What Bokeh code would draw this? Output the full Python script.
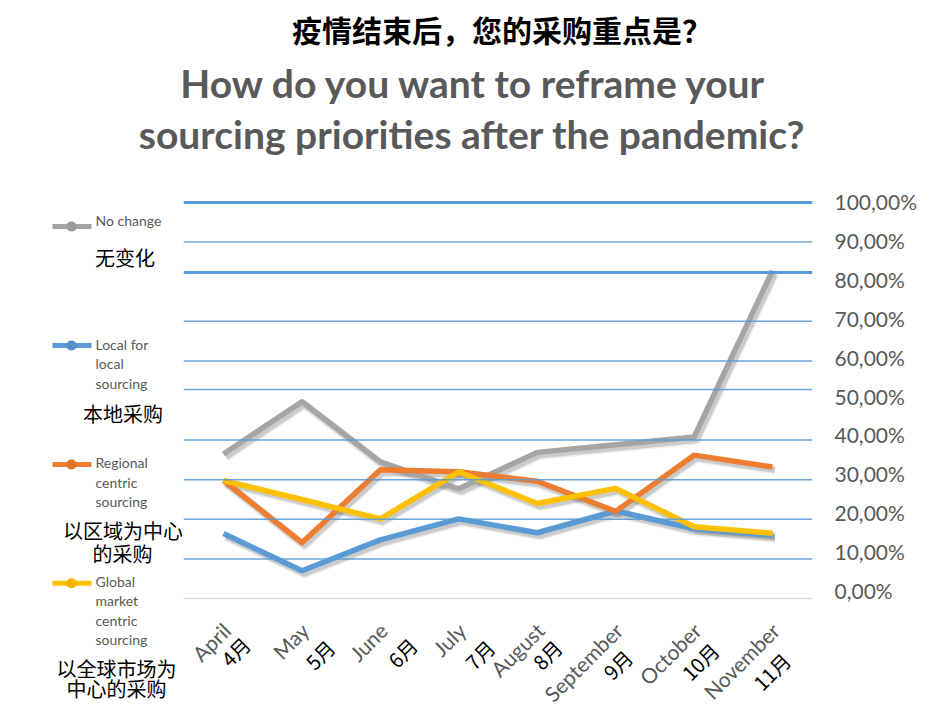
import math
from bokeh.plotting import figure
from bokeh.models import Range1d, LinearAxis, FixedTicker, CustomJSTickFormatter, Span
from bokeh.core.properties import value
from bokeh.embed import file_html
from bokeh.resources import INLINE

# ---------------- data ----------------
months = ["April", "May", "June", "July", "August", "September", "October", "November"]
months_cn = ["4月", "5月", "6月", "7月", "8月", "9月", "10月", "11月"]
no_change = [0.365, 0.497, 0.345, 0.277, 0.369, 0.388, 0.408, 0.828]
local_for_local = [0.164, 0.070, 0.148, 0.201, 0.166, 0.221, 0.176, 0.160]
regional_centric = [0.298, 0.141, 0.325, 0.320, 0.296, 0.220, 0.362, 0.332]
global_market = [0.298, 0.250, 0.201, 0.320, 0.240, 0.278, 0.181, 0.165]
y_ticks = [0.0, 0.1, 0.2, 0.3, 0.4, 0.5, 0.6, 0.7, 0.8, 0.9, 1.0]

series_names = ["No change", "Local for local sourcing", "Regional centric sourcing", "Global market centric sourcing"]
series_values = [no_change, local_for_local, regional_centric, global_market]
series_colors = ["#A5A5A5", "#5B9BD5", "#ED7D31", "#FFC000"]
marker_colors = ["#9A9A9A", "#5592CA", "#E0742A", "#F2B500"]

# ---------------- layout (page pixels) ----------------
W, H, PAGE = 940, 712, 0
FL, FR, FT, FB = 183, 812, 196, 604
X0_PX, DX_PX = 223.0, 78.43
Y0_PX, DY_PX = 598.0, 396.0

def dx(px):
    return (px - X0_PX) / DX_PX

def dy(py):
    return (Y0_PX - py) / DY_PX

x_start, x_end = dx(FL), dx(FR)
y_start, y_end = dy(FB), dy(FT)

p = figure(width=W, height=H, title=None,
           x_range=Range1d(x_start, x_end), y_range=Range1d(y_start, y_end),
           x_axis_location=None, y_axis_location=None,
           output_backend="svg", toolbar_location=None,
           min_border_left=FL - PAGE, min_border_right=W - (FR - PAGE),
           min_border_top=FT - PAGE, min_border_bottom=H - (FB - PAGE))
p.outline_line_color = None
p.background_fill_color = "white"
p.border_fill_color = "white"
p.grid.visible = False

sh_x, sh_y = 2.5 / DX_PX, 3.0 / DY_PX
p.extra_x_ranges = {"sx": Range1d(x_start - sh_x, x_end - sh_x)}
p.extra_y_ranges = {
    "sy": Range1d(y_start + sh_y, y_end + sh_y),
    "labels": Range1d((590 - FB) / 389.0, (590 - FT) / 389.0),
}

# right axis with percentage labels
ax = LinearAxis(y_range_name="labels", ticker=FixedTicker(ticks=y_ticks),
                formatter=CustomJSTickFormatter(code="return (tick*100).toFixed(2).replace('.', ',') + '%';"))
ax.axis_line_color = None
ax.major_tick_line_color = None
ax.minor_tick_line_color = None
ax.major_tick_in = 0
ax.major_tick_out = 0
ax.major_label_standoff = 22
ax.major_label_text_font = "Lato"
ax.major_label_text_font_size = "21px"
ax.major_label_text_color = "#595959"
p.add_layout(ax, "right")

# gridlines
grid_thin = [0.1, 0.2, 0.3, 0.4, 0.528, 0.6, 0.7, 0.9]
grid_thick = [0.823, 1.0]
for g in grid_thin:
    p.add_layout(Span(location=g, dimension="width", line_color="#5B9BD5", line_width=1.5, line_alpha=0.9))
for g in grid_thick:
    p.add_layout(Span(location=g, dimension="width", line_color="#5B9BD5", line_width=3))
p.add_layout(Span(location=0.0, dimension="width", line_color="#D9D9D9", line_width=1.5))

idx = list(range(len(months)))

# shadows
for vals in series_values:
    p.line(idx, vals, x_range_name="sx", y_range_name="sy", line_color="black",
           line_alpha=0.07, line_width=9, line_join="round")
    p.line(idx, vals, x_range_name="sx", y_range_name="sy", line_color="black",
           line_alpha=0.14, line_width=6, line_join="round")
# lines
for vals, col in zip(series_values, series_colors):
    p.line(idx, vals, line_color=col, line_width=5.5, line_join="round")


def add_text(xs, ys, texts, font, size, color, align, baseline, angle=0.0, style="normal"):
    p.text(x=xs, y=ys, text=texts, angle=angle, text_font=value(font), text_font_size=size,
           text_font_style=style, text_color=color, text_align=align, text_baseline=baseline,
           level="overlay")

# ---------------- legend (manual) ----------------
leg_y = [226, 345, 464, 582.7]
p.segment(x0=[dx(52)] * 4, y0=[dy(v) for v in leg_y], x1=[dx(91)] * 4, y1=[dy(v) for v in leg_y],
          line_color=series_colors, line_width=5, level="overlay")
# legend marker dots (round-capped very short segments)
p.segment(x0=[dx(70.8)] * 4, y0=[dy(v) for v in leg_y], x1=[dx(71.2)] * 4, y1=[dy(v) for v in leg_y],
          line_color=marker_colors, line_width=10, line_cap="round", level="overlay")

leg_en = [["No change"], ["Local for", "local", "sourcing"], ["Regional", "centric", "sourcing"],
          ["Global", "market", "centric", "sourcing"]]
leg_en_y0 = [220, 344, 462.3, 581]
ex, ey, et = [], [], []
for lines, y0 in zip(leg_en, leg_en_y0):
    for k, t in enumerate(lines):
        ex.append(dx(95)); ey.append(dy(y0 + k * 19.4)); et.append(t)
add_text(ex, ey, et, "Lato", "14px", "#595959", "left", "middle")

leg_cn = [("无变化", 124.5, 257), ("本地采购", 122.5, 412.7), ("以区域为中心", 122.5, 530),
          ("的采购", 122, 553.3), ("以全球市场为", 116, 667.7), ("中心的采购", 116, 688.3)]
add_text([dx(c[1]) for c in leg_cn], [dy(c[2]) for c in leg_cn], [c[0] for c in leg_cn],
         "Noto Sans CJK SC", "20px", "black", "center", "middle")

# ---------------- x labels ----------------
ang = math.pi / 4
add_text([i + dx(X0_PX + 3) for i in idx], [dy(626)] * len(idx), months,
         "Lato", "21px", "#595959", "right", "middle", angle=ang)
cn_dx = [20, 26, 30, 29, 18, 10, 18, 11]
cn_y = [637, 640, 638, 640, 640, 650, 643, 653]
add_text([i + dx(X0_PX + cn_dx[i] + 3) for i in idx], [dy(cn_y[i] + 3) for i in idx], months_cn,
         "Noto Sans CJK SC", "20px", "black", "right", "middle", angle=ang)

# ---------------- titles ----------------
add_text([dx(501.5)], [dy(28)], ["疫情结束后，您的采购重点是？"],
         "Noto Sans CJK SC", "30px", "black", "center", "middle", style="bold")
add_text([dx(473.5), dx(471.5)], [dy(82), dy(133)],
         ["How do you want to reframe your", "sourcing priorities after the pandemic?"],
         "Lato", "39px", "#595959", "center", "middle", style="bold")

open("out.html", "w").write(file_html(p, INLINE))
